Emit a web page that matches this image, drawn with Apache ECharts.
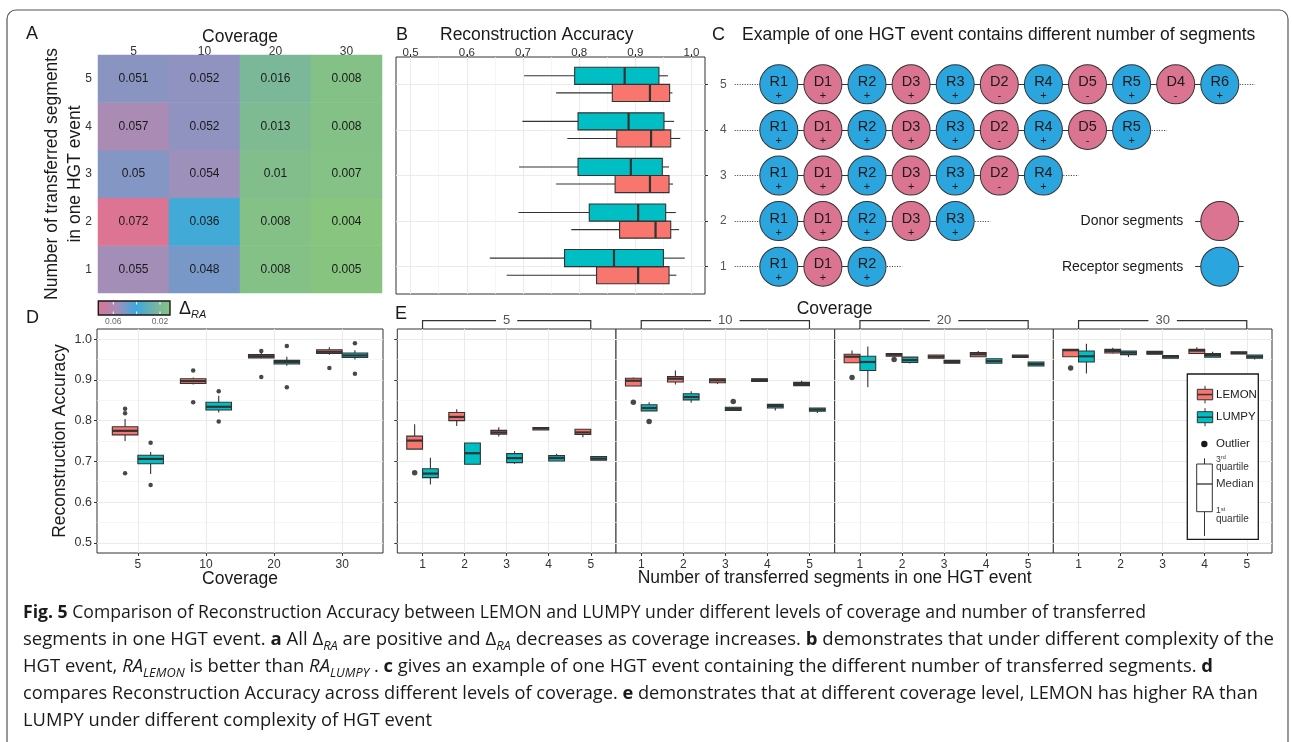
<!DOCTYPE html>
<html><head><meta charset="utf-8">
<script src="https://cdn.jsdelivr.net/npm/echarts@6/dist/echarts.min.js"></script>
<style>html,body{margin:0;padding:0;background:#fff}#c{width:1292px;height:742px}</style>
</head><body><div id="c"></div>
<script>
// ---------------- DATA ----------------
// Panel A: Delta RA heatmap
const heatCoverage = ['5', '10', '20', '30'];
const heatSegments = ['1', '2', '3', '4', '5'];
const heatSeg1 = [0.055, 0.048, 0.008, 0.005];
const heatSeg2 = [0.072, 0.036, 0.008, 0.004];
const heatSeg3 = [0.05, 0.054, 0.01, 0.007];
const heatSeg4 = [0.057, 0.052, 0.013, 0.008];
const heatSeg5 = [0.051, 0.052, 0.016, 0.008];

// Panel B: RA by number of segments  [low, q1, median, q3, high]
const segLabels = ['1', '2', '3', '4', '5'];
const segRA_LEMON = [[0.671,0.831,0.905,0.960,0.973],[0.786,0.872,0.936,0.963,0.978],[0.759,0.864,0.926,0.960,0.967],[0.779,0.867,0.928,0.963,0.980],[0.759,0.859,0.926,0.961,0.966]];
const segRA_LUMPY = [[0.641,0.774,0.862,0.950,0.988],[0.692,0.818,0.905,0.954,0.972],[0.693,0.798,0.892,0.948,0.960],[0.699,0.798,0.888,0.951,0.969],[0.702,0.792,0.881,0.942,0.958]];
const raTicks = [0.5, 0.6, 0.7, 0.8, 0.9, 1.0];
const raMinor = [0.55, 0.65, 0.75, 0.85, 0.95];

// Panel C: segment examples per row (label + strand sign)
const hgtRow1 = ['R1+','D1+','R2+'];
const hgtRow2 = ['R1+','D1+','R2+','D3+','R3+'];
const hgtRow3 = ['R1+','D1+','R2+','D3+','R3+','D2-','R4+'];
const hgtRow4 = ['R1+','D1+','R2+','D3+','R3+','D2-','R4+','D5-','R5+'];
const hgtRow5 = ['R1+','D1+','R2+','D3+','R3+','D2-','R4+','D5-','R5+','D4-','R6+'];
const segLegend = ['Donor segments', 'Receptor segments'];

// Panel D: RA by coverage
const covLabels = ['5', '10', '20', '30'];
const covRA_LEMON = [[0.750,0.765,0.775,0.785,0.804],[0.889,0.891,0.897,0.903,0.906],[0.953,0.954,0.958,0.962,0.967],[0.962,0.965,0.969,0.974,0.980]];
const covRA_LUMPY = [[0.669,0.694,0.706,0.715,0.723],[0.820,0.826,0.834,0.845,0.861],[0.935,0.939,0.944,0.948,0.957],[0.950,0.955,0.960,0.966,0.973]];
const covOut_LEMON = [[1,0.829],[1,0.818],[1,0.671],[2,0.923],[2,0.845],[3,0.971],[3,0.907],[4,0.929]];
const covOut_LUMPY = [[1,0.746],[1,0.642],[2,0.872],[2,0.798],[3,0.983],[3,0.882],[4,0.990],[4,0.915]];

// Panel E: RA by coverage facet and number of segments
const E5_LEMON  = [[0.730,0.730,0.751,0.762,0.791],[0.787,0.800,0.809,0.820,0.828],[0.761,0.767,0.771,0.776,0.784],[0.777,0.777,0.781,0.783,0.783],[0.759,0.766,0.771,0.779,0.779]];
const E5_LUMPY  = [[0.643,0.660,0.670,0.682,0.709],[0.693,0.693,0.720,0.745,0.745],[0.694,0.697,0.708,0.719,0.725],[0.701,0.701,0.708,0.714,0.719],[0.703,0.703,0.707,0.712,0.712]];
const E10_LEMON = [[0.885,0.885,0.898,0.904,0.906],[0.889,0.895,0.903,0.908,0.923],[0.890,0.893,0.899,0.903,0.903],[0.896,0.896,0.900,0.903,0.903],[0.886,0.886,0.890,0.894,0.898]];
const E10_LUMPY = [[0.824,0.824,0.831,0.839,0.845],[0.844,0.851,0.858,0.866,0.872],[0.825,0.825,0.829,0.833,0.833],[0.825,0.831,0.836,0.840,0.840],[0.819,0.823,0.827,0.831,0.831]];
const E20_LEMON = [[0.942,0.942,0.957,0.963,0.972],[0.958,0.958,0.962,0.965,0.965],[0.953,0.953,0.957,0.961,0.961],[0.957,0.957,0.963,0.967,0.971],[0.955,0.955,0.958,0.961,0.961]];
const E20_LUMPY = [[0.882,0.923,0.944,0.958,0.982],[0.940,0.943,0.949,0.956,0.956],[0.941,0.941,0.944,0.948,0.948],[0.941,0.941,0.946,0.952,0.952],[0.934,0.934,0.939,0.944,0.944]];
const E30_LEMON = [[0.957,0.957,0.973,0.975,0.975],[0.965,0.966,0.971,0.975,0.979],[0.963,0.963,0.966,0.970,0.970],[0.965,0.965,0.972,0.975,0.980],[0.964,0.964,0.966,0.969,0.969]];
const E30_LUMPY = [[0.916,0.944,0.958,0.971,0.989],[0.956,0.962,0.967,0.971,0.971],[0.953,0.953,0.957,0.960,0.960],[0.956,0.956,0.961,0.965,0.969],[0.950,0.953,0.957,0.961,0.961]];
const E5_outLEMON = [[1,0.672]];
const E5_outLUMPY = [];
const E10_outLEMON = [[1,0.845]];
const E10_outLUMPY = [[1,0.798],[3,0.847]];
const E20_outLEMON = [[1,0.906],[2,0.950]];
const E20_outLUMPY = [];
const E30_outLEMON = [[1,0.929]];
const E30_outLUMPY = [];
const facetCoverage = ['5', '10', '20', '30'];

// Caption
const captionLine1 = [['b','Fig. 5'],['n',' Comparison of Reconstruction Accuracy between LEMON and LUMPY under different levels of coverage and number of transferred']];
const captionLine2 = [['n','segments in one HGT event. '],['b','a'],['n',' All Δ'],['s','RA'],['n',' are positive and Δ'],['s','RA'],['n',' decreases as coverage increases. '],['b','b'],['n',' demonstrates that under different complexity of the']];
const captionLine3 = [['n','HGT event, '],['i','RA'],['is','LEMON'],['n',' is better than '],['i','RA'],['is','LUMPY'],['n',' . '],['b','c'],['n',' gives an example of one HGT event containing the different number of transferred segments. '],['b','d']];
const captionLine4 = [['n','compares Reconstruction Accuracy across different levels of coverage. '],['b','e'],['n',' demonstrates that at different coverage level, LEMON has higher RA than']];
const captionLine5 = [['n','LUMPY under different complexity of HGT event']];

// ---------------- STYLE / LAYOUT ----------------
const FONT = "'Liberation Sans', Arial, sans-serif";
const CAPFONT = "'Open Sans','Liberation Sans',sans-serif";
const LEMON_C = '#F8766D', LUMPY_C = '#00BFC4';
const DONOR_C = '#DB7490', RECEPT_C = '#2BA5DE';
const BOX_HALF = 0.1875;
const INK = '#1a1a1a';

const heatDelta = [heatSeg1, heatSeg2, heatSeg3, heatSeg4, heatSeg5];
const heatData = [];
heatDelta.forEach((row, yi) => row.forEach((v, xi) => heatData.push([xi, yi, v])));

const E_LEMON = [E5_LEMON, E10_LEMON, E20_LEMON, E30_LEMON];
const E_LUMPY = [E5_LUMPY, E10_LUMPY, E20_LUMPY, E30_LUMPY];
const E_outLEMON = [E5_outLEMON, E10_outLEMON, E20_outLEMON, E30_outLEMON];
const E_outLUMPY = [E5_outLUMPY, E10_outLUMPY, E20_outLUMPY, E30_outLUMPY];
const hgtRows = [hgtRow1, hgtRow2, hgtRow3, hgtRow4, hgtRow5];

const frameGrid = {show: true, borderColor: '#333', borderWidth: 1, backgroundColor: '#fff'};
const facetLeft = [397.3, 616, 834.7, 1053.3];
const grids = [
  {left: 98, top: 55, width: 284, height: 238},                       // 0 A
  Object.assign({left: 396, top: 57, width: 309, height: 237}, frameGrid), // 1 B
  Object.assign({left: 97, top: 329, width: 286, height: 224}, frameGrid), // 2 D
];
facetLeft.forEach(l => grids.push(Object.assign({left: l, top: 329, width: 218.7, height: 224}, frameGrid))); // 3-6 E
grids.push({left: 734.7, top: 57, width: 529.2, height: 237});        // 7 C

function valAxis(gi, min, max, opts) {
  return Object.assign({
    type: 'value', gridIndex: gi, min: min, max: max,
    axisLine: {show: false}, splitLine: {show: false},
    axisTick: {show: false}, axisLabel: {show: false}
  }, opts || {});
}
function ticked(vals, fmt, extra) {
  return {
    axisTick: {show: true, customValues: vals, length: 3, lineStyle: {color: '#333', width: 1}},
    axisLabel: Object.assign({show: true, customValues: vals, formatter: fmt, color: '#333', fontSize: 12, margin: 5, fontFamily: FONT}, extra || {})
  };
}
const f1 = v => Number(v).toFixed(1);

const xAxes = [
  {type: 'category', gridIndex: 0, data: heatCoverage, position: 'top',
   axisLine: {show: false}, axisTick: {show: false}, splitLine: {show: false},
   axisLabel: {color: '#333', fontSize: 12, margin: -3},
   name: 'Coverage', nameLocation: 'middle', nameGap: 8, nameMoveOverlap: false,
   nameTextStyle: {fontSize: 17.5, color: INK, lineHeight: 20, verticalAlign: 'bottom'}},
  valAxis(1, 0.474, 1.024, Object.assign({position: 'top'}, ticked(raTicks, f1, {fontSize: 11.5, margin: -2}))),
  valAxis(2, 0.4, 4.6, Object.assign(ticked([1,2,3,4], v => covLabels[Math.round(v) - 1], {fontSize: 12, margin: 6}),
    {name: 'Coverage', nameLocation: 'middle', nameGap: 17, nameMoveOverlap: false, nameTextStyle: {fontSize: 17.5, color: INK}})),
];
facetLeft.forEach((l, k) => xAxes.push(valAxis(3 + k, 0.4, 5.6, ticked([1,2,3,4,5], v => segLabels[Math.round(v) - 1], {fontSize: 12, margin: 6}))));
xAxes.push(valAxis(7, 0, 12, {show: false}));

const yAxes = [
  {type: 'category', gridIndex: 0, data: heatSegments,
   axisLine: {show: false}, axisTick: {show: false}, splitLine: {show: false},
   axisLabel: {color: '#333', fontSize: 12, margin: 6},
   name: 'Number of transferred segments\nin one HGT event', nameLocation: 'middle', nameGap: 11, nameMoveOverlap: false,
   nameTextStyle: {fontSize: 17.5, color: INK, lineHeight: 23}},
  valAxis(1, 0.4, 5.6, Object.assign({position: 'right'}, ticked([1,2,3,4,5], v => segLabels[Math.round(v) - 1], {color: '#555', margin: 15}))),
  valAxis(2, 0.475, 1.025, Object.assign(ticked(raTicks, f1, {fontSize: 12.5}),
    {name: 'Reconstruction Accuracy', nameLocation: 'middle', nameGap: 28, nameMoveOverlap: false, nameTextStyle: {fontSize: 17.5, color: INK}})),
];
facetLeft.forEach((l, k) => {
  const ax = valAxis(3 + k, 0.475, 1.025);
  if (k === 0) ax.axisTick = {show: true, customValues: raTicks, length: 3, lineStyle: {color: '#333'}};
  yAxes.push(ax);
});
yAxes.push(valAxis(7, 0.4, 5.6, {show: false}));

// gridlines as line segments in data space
function gridLines(ai, vx, mx, vy, my, xr, yr) {
  const data = [];
  mx.forEach(x => data.push({coords: [[x, yr[0]], [x, yr[1]]], lineStyle: {color: '#F2F2F2', width: 0.7}}));
  my.forEach(y => data.push({coords: [[xr[0], y], [xr[1], y]], lineStyle: {color: '#F2F2F2', width: 0.7}}));
  vx.forEach(x => data.push({coords: [[x, yr[0]], [x, yr[1]]], lineStyle: {color: '#EBEBEB', width: 1.1}}));
  vy.forEach(y => data.push({coords: [[xr[0], y], [xr[1], y]], lineStyle: {color: '#EBEBEB', width: 1.1}}));
  return {type: 'lines', coordinateSystem: 'cartesian2d', xAxisIndex: ai, yAxisIndex: ai, polyline: false,
          silent: true, z: 1, symbol: 'none', data: data, lineStyle: {opacity: 1}};
}

function boxSeries(ai, stats, offset, color, horizontal) {
  return {
    type: 'custom', xAxisIndex: ai, yAxisIndex: ai, z: 3, silent: true,
    data: stats.map((s, i) => [i + 1 + offset].concat(s)),
    encode: horizontal ? {x: [1, 2, 3, 4, 5], y: 0} : {x: 0, y: [1, 2, 3, 4, 5]},
    renderItem: function (params, api) {
      const c = api.value(0);
      const v = [api.value(1), api.value(2), api.value(3), api.value(4), api.value(5)];
      const pt = (pos, val) => horizontal ? api.coord([val, pos]) : api.coord([pos, val]);
      const a = pt(c - BOX_HALF, v[1]), b = pt(c + BOX_HALF, v[3]);
      const line = (p, q, lw) => ({type: 'line', shape: {x1: p[0], y1: p[1], x2: q[0], y2: q[1]}, style: {stroke: '#333', lineWidth: lw}});
      return {type: 'group', children: [
        line(pt(c, v[0]), pt(c, v[1]), 1.1),
        line(pt(c, v[3]), pt(c, v[4]), 1.1),
        {type: 'rect', shape: {x: Math.min(a[0], b[0]), y: Math.min(a[1], b[1]), width: Math.abs(b[0] - a[0]), height: Math.abs(b[1] - a[1])},
         style: {fill: color, stroke: '#333', lineWidth: 1.1}},
        line(pt(c - BOX_HALF, v[2]), pt(c + BOX_HALF, v[2]), 2.2)
      ]};
    }
  };
}
function outlierSeries(ai, pts, offset, size) {
  return {type: 'scatter', xAxisIndex: ai, yAxisIndex: ai, z: 4, silent: true, symbolSize: size,
          itemStyle: {color: INK}, data: pts.map(p => [p[0] + offset, p[1]])};
}

const series = [];
series.push({
  type: 'heatmap', xAxisIndex: 0, yAxisIndex: 0, data: heatData, silent: true,
  label: {show: true, formatter: p => String(p.value[2]), fontSize: 12, color: INK, fontFamily: FONT},
  itemStyle: {borderWidth: 0}
});
// B
series.push(gridLines(1, raTicks, raMinor, [1,2,3,4,5], [], [0.474, 1.024], [0.4, 5.6]));
series.push(boxSeries(1, segRA_LEMON, -BOX_HALF, LEMON_C, true));
series.push(boxSeries(1, segRA_LUMPY, BOX_HALF, LUMPY_C, true));
// D
series.push(gridLines(2, [1,2,3,4], [], raTicks, raMinor, [0.4, 4.6], [0.475, 1.025]));
series.push(boxSeries(2, covRA_LEMON, -BOX_HALF, LEMON_C, false));
series.push(boxSeries(2, covRA_LUMPY, BOX_HALF, LUMPY_C, false));
series.push(outlierSeries(2, covOut_LEMON, -BOX_HALF, 4.5));
series.push(outlierSeries(2, covOut_LUMPY, BOX_HALF, 4.5));
// E
for (let k = 0; k < 4; k++) {
  const ai = 3 + k;
  series.push(gridLines(ai, [1,2,3,4,5], [], raTicks, raMinor, [0.4, 5.6], [0.475, 1.025]));
  series.push(boxSeries(ai, E_LEMON[k], -BOX_HALF, LEMON_C, false));
  series.push(boxSeries(ai, E_LUMPY[k], BOX_HALF, LUMPY_C, false));
  series.push(outlierSeries(ai, E_outLEMON[k], -BOX_HALF, 5.5));
  series.push(outlierSeries(ai, E_outLUMPY[k], BOX_HALF, 5.5));
}
// C: connectors
const solidC = [], dottedC = [], circles = [];
hgtRows.forEach((row, r) => {
  const y = r + 1, n = row.length;
  solidC.push({coords: [[1, y], [n, y]]});
  dottedC.push({coords: [[0, y], [1, y]]});
  dottedC.push({coords: [[n, y], [n + 0.8, y]]});
  row.forEach((s, i) => circles.push([i + 1, y, s.slice(0, -1), s.slice(-1)]));
});
series.push({type: 'lines', coordinateSystem: 'cartesian2d', xAxisIndex: 7, yAxisIndex: 7, polyline: false, silent: true, z: 2,
  data: dottedC, lineStyle: {color: '#333', width: 1, type: [1, 1.5], opacity: 1}});
series.push({type: 'lines', coordinateSystem: 'cartesian2d', xAxisIndex: 7, yAxisIndex: 7, polyline: false, silent: true, z: 2,
  data: solidC.concat([{coords: [[10.44, 2], [11.54, 2]]}, {coords: [[10.44, 1], [11.54, 1]]}]), lineStyle: {color: '#333', width: 1, opacity: 1}});
series.push({
  type: 'scatter', xAxisIndex: 7, yAxisIndex: 7, z: 3, silent: true, symbol: 'circle', symbolSize: [38, 39],
  data: circles,
  itemStyle: {color: p => p.value[2][0] === 'D' ? DONOR_C : RECEPT_C, borderColor: '#333', borderWidth: 1, opacity: 1},
  label: {show: true, position: 'inside', offset: [0, 2], formatter: p => '{a|' + p.value[2] + '}\n{b|' + p.value[3] + '}',
    rich: {a: {fontSize: 14.5, lineHeight: 19, color: INK, fontFamily: FONT}, b: {fontSize: 11, lineHeight: 9, color: INK, fontFamily: FONT}}}
});
series.push({
  type: 'scatter', xAxisIndex: 7, yAxisIndex: 7, z: 3, silent: true, symbol: 'circle', symbolSize: [38, 39],
  data: [[11, 2, segLegend[0]], [11, 1, segLegend[1]]],
  itemStyle: {color: p => p.dataIndex === 0 ? DONOR_C : RECEPT_C, borderColor: '#333', borderWidth: 1, opacity: 1},
  label: {show: true, position: 'left', distance: 17, formatter: p => p.value[2], fontSize: 14, color: INK, fontFamily: FONT}
});

const option = {
  animation: false,
  backgroundColor: '#fff',
  textStyle: {fontFamily: FONT},
  grid: grids, xAxis: xAxes, yAxis: yAxes, series: series,
  visualMap: [{type: 'continuous', show: false, seriesIndex: 0, min: 0.004, max: 0.072,
               inRange: {color: ['#88C57E', '#75B2A6', '#3AA9DE', '#A38EB8', '#DC7493']}}]
};

const chart = echarts.init(document.getElementById('c'), null, {renderer: 'canvas', width: 1292, height: 742});
chart.setOption(option);

// ---------------- graphics (frame, titles, legends, caption) ----------------
function txt(x, y, text, size, extra) {
  return Object.assign({type: 'text', x: x, y: y, silent: true, z: 50,
    style: Object.assign({text: text, fontSize: size, fontFamily: FONT, fill: INK,
      align: 'left', verticalAlign: 'middle', textAlign: 'left', textVerticalAlign: 'middle'}, extra || {})});
}
const G = [];
G.push({type: 'rect', shape: {x: 7, y: 10, width: 1281, height: 800, r: 9}, style: {fill: 'none', stroke: '#555', lineWidth: 1.2}, silent: true, z: 40});
// panel letters
G.push(txt(26, 34, 'A', 18)); G.push(txt(396, 35, 'B', 18)); G.push(txt(712, 35, 'C', 18));
G.push(txt(26, 318, 'D', 18)); G.push(txt(395, 314, 'E', 18));
G.push(txt(440, 35, 'Reconstruction Accuracy', 17.5));
G.push(txt(742, 35, 'Example of one HGT event contains different number of segments', 17.5));
G.push(txt(834.6, 309, 'Coverage', 17.5, {align: 'center', textAlign: 'center'}));
G.push(txt(834.6, 578, 'Number of transferred segments in one HGT event', 17.5, {align: 'center', textAlign: 'center'}));
// colour bar for Delta RA
G.push({type: 'rect', shape: {x: 98.3, y: 301, width: 71.7, height: 14}, silent: true, z: 45,
  style: {stroke: INK, lineWidth: 1.4, fill: {type: 'linear', x: 0, y: 0, x2: 1, y2: 0,
    colorStops: [{offset: 0, color: '#DC7493'}, {offset: 0.27, color: '#A38EB8'}, {offset: 0.53, color: '#3AA9DE'}, {offset: 0.78, color: '#75B2A6'}, {offset: 1, color: '#88C57E'}]}}});
[113.3, 136.7, 160].forEach(x => {
  G.push({type: 'line', shape: {x1: x, y1: 302, x2: x, y2: 304.5}, style: {stroke: '#fff', lineWidth: 1}, silent: true, z: 46});
  G.push({type: 'line', shape: {x1: x, y1: 311.5, x2: x, y2: 314}, style: {stroke: '#fff', lineWidth: 1}, silent: true, z: 46});
});
G.push(txt(113.3, 322, '0.06', 8.5, {fill: '#666', align: 'center', textAlign: 'center'}));
G.push(txt(160, 322, '0.02', 8.5, {fill: '#666', align: 'center', textAlign: 'center'}));
G.push(txt(179, 309, '{d|Δ}{s|RA}', 17, {rich: {d: {fontSize: 18, lineHeight: 22, fontFamily: FONT, fill: INK},
  s: {fontSize: 11, lineHeight: 12, verticalAlign: 'bottom', fontStyle: 'italic', fontFamily: FONT, fill: INK}}}));
// facet strips (brackets)
facetCoverage.forEach((lab, k) => {
  const ai = 3 + k;
  const p1 = chart.convertToPixel({xAxisIndex: ai, yAxisIndex: ai}, [1, 1.025]);
  const p5 = chart.convertToPixel({xAxisIndex: ai, yAxisIndex: ai}, [5, 1.025]);
  const yb = p1[1] - 8.3;
  G.push({type: 'polyline', shape: {points: [[p1[0], p1[1]], [p1[0], yb], [p5[0], yb], [p5[0], p1[1]]]},
          style: {stroke: '#333', lineWidth: 1.2, fill: 'none'}, silent: true, z: 45});
  G.push(txt((p1[0] + p5[0]) / 2, yb, lab, 13, {fill: '#555', align: 'center', textAlign: 'center',
          backgroundColor: '#fff', padding: [0, 7]}));
});
// legend for E
G.push({type: 'rect', shape: {x: 1187.3, y: 374, width: 71, height: 165.3}, style: {fill: '#fff', stroke: INK, lineWidth: 1.3}, silent: true, z: 45});
function legBox(y0, h, color) {
  const cx = 1205, x0 = 1197.3, w = 15.4;
  G.push({type: 'line', shape: {x1: cx, y1: y0 - 3.5, x2: cx, y2: y0 + h + 3.5}, style: {stroke: '#333', lineWidth: 1}, silent: true, z: 46});
  G.push({type: 'rect', shape: {x: x0, y: y0, width: w, height: h}, style: {fill: color, stroke: '#333', lineWidth: 1}, silent: true, z: 47});
  G.push({type: 'line', shape: {x1: x0, y1: y0 + h / 2, x2: x0 + w, y2: y0 + h / 2}, style: {stroke: '#333', lineWidth: 1.5}, silent: true, z: 48});
}
legBox(389.3, 10.5, LEMON_C); G.push(txt(1216, 395, 'LEMON', 11.5));
legBox(411.7, 11, LUMPY_C); G.push(txt(1216, 417.3, 'LUMPY', 11.5));
G.push({type: 'circle', shape: {cx: 1204.3, cy: 444, r: 3.2}, style: {fill: INK}, silent: true, z: 46});
G.push(txt(1216, 444, 'Outlier', 11.5));
G.push({type: 'line', shape: {x1: 1204.5, y1: 458.3, x2: 1204.5, y2: 536}, style: {stroke: '#333', lineWidth: 1}, silent: true, z: 46});
G.push({type: 'rect', shape: {x: 1196.7, y: 464, width: 15.6, height: 47.7}, style: {fill: '#fff', stroke: '#333', lineWidth: 1}, silent: true, z: 47});
G.push({type: 'line', shape: {x1: 1196.7, y1: 484, x2: 1212.3, y2: 484}, style: {stroke: '#333', lineWidth: 1.3}, silent: true, z: 48});
G.push(txt(1216, 459.5, '3', 8.5, {fill: '#333'})); G.push(txt(1221, 457.5, 'rd', 5.5, {fill: '#333'}));
G.push(txt(1216, 467.5, 'quartile', 10, {fill: '#333'}));
G.push(txt(1216, 484, 'Median', 11.5, {fill: '#333'}));
G.push(txt(1216, 511, '1', 8.5, {fill: '#333'})); G.push(txt(1221, 509, 'st', 5.5, {fill: '#333'}));
G.push(txt(1216, 519, 'quartile', 10, {fill: '#333'}));

// caption
const capStyles = {
  n: {fontSize: 18, fontWeight: 'normal', fontStyle: 'normal', lineHeight: 26},
  b: {fontSize: 18, fontWeight: 'bold', fontStyle: 'normal', lineHeight: 26},
  i: {fontSize: 18, fontWeight: 'normal', fontStyle: 'italic', lineHeight: 26},
  s: {fontSize: 12.5, fontWeight: 'normal', fontStyle: 'italic', lineHeight: 14, verticalAlign: 'bottom'},
  is: {fontSize: 12.5, fontWeight: 'normal', fontStyle: 'italic', lineHeight: 14, verticalAlign: 'bottom'}
};
const capRich = {};
Object.keys(capStyles).forEach(k => capRich[k] = Object.assign({fontFamily: CAPFONT, fill: INK}, capStyles[k]));
const mctx = document.createElement('canvas').getContext('2d');
function measure(tokens) {
  let w = 0;
  tokens.forEach(([k, t]) => {
    const s = capStyles[k];
    mctx.font = s.fontStyle + ' ' + s.fontWeight + ' ' + s.fontSize + 'px ' + CAPFONT;
    w += mctx.measureText(t).width;
  });
  return w;
}
const capLines = [captionLine1, captionLine2, captionLine3, captionLine4, captionLine5];
const capY = [613, 640, 667, 694, 721];
const capEnd = [1146, 1274, 1213, 1258, 432];
capLines.forEach((tokens, i) => {
  const w = measure(tokens);
  const sx = (capEnd[i] - 23) / w;
  G.push({type: 'text', x: 23, y: capY[i], scaleX: sx, silent: true, z: 50,
    style: {text: tokens.map(([k, t]) => '{' + k + '|' + t + '}').join(''), rich: capRich,
      fontSize: 18, fontFamily: CAPFONT, fill: INK, align: 'left', verticalAlign: 'middle', textAlign: 'left', textVerticalAlign: 'middle'}});
});

chart.setOption({graphic: {elements: G}});
</script></body></html>
